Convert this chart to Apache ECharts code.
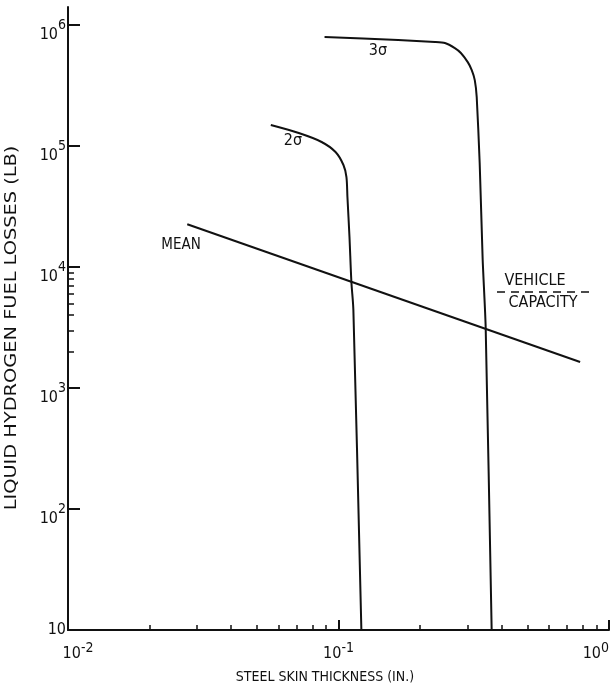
<!DOCTYPE html>
<html>
<head>
<meta charset="utf-8">
<script src="https://cdn.jsdelivr.net/npm/echarts@6/dist/echarts.min.js"></script>
<style>
html,body{margin:0;padding:0;background:#fff;}
#chart{width:612px;height:692px;}
</style>
</head>
<body>
<div id="chart"></div>
<script>
// ---- data ----
const xMajorTicks = [0.01, 0.1, 1];
const xMinorTicks = [0.02, 0.03, 0.04, 0.05, 0.06, 0.07, 0.08, 0.09, 0.2, 0.3, 0.4, 0.5, 0.6, 0.7, 0.8, 0.9];
const yMajorTicks = [10, 100, 1000, 10000, 100000, 1000000];
const yMinorTicks = [2000, 3000, 4000, 5000, 6000, 7000, 8000, 9000];

const meanX = [0.0276, 0.782];
const meanY = [22600, 1640];

const sigma2X = [0.0562, 0.0713, 0.0866, 0.0975, 0.1043, 0.1070, 0.1079, 0.1098, 0.1116, 0.1135, 0.1215];
const sigma2Y = [149000, 128000, 108000, 89200, 69700, 55400, 37900, 17700, 7520, 4410, 10];

const sigma3X = [0.0888, 0.1662, 0.2273, 0.2474, 0.2692, 0.2834, 0.3005, 0.3109, 0.3190, 0.3243, 0.3326, 0.3412, 0.3500, 0.3683];
const sigma3Y = [796000, 752000, 724000, 710000, 645000, 588000, 494000, 425000, 351000, 254000, 72400, 11500, 3190, 10];

const xTitle = 'STEEL SKIN THICKNESS (IN.)';
const yTitle = 'LIQUID HYDROGEN FUEL LOSSES (LB)';

// ---- chart ----
const FONT = "'Liberation Sans Narrow', 'DejaVu Sans Condensed', 'Liberation Sans', sans-serif";
const zip = (xs, ys) => xs.map((x, i) => [x, ys[i]]);
const expOf = v => Math.round(Math.log10(v));

const chart = echarts.init(document.getElementById('chart'), null, {renderer: 'canvas'});

const xRich = {
  b: {fontFamily: FONT, fontSize: 16, color: '#111', padding: [12, 0, 0, 0]},
  b0: {fontFamily: FONT, fontSize: 16, color: '#111', padding: [12, 0, 0, 20]},
  s: {fontFamily: FONT, fontSize: 14, color: '#111'}
};
const yRich = {
  b: {fontFamily: FONT, fontSize: 16, color: '#111', padding: [20, 0, 0, 0]},
  s: {fontFamily: FONT, fontSize: 14, color: '#111'},
  p: {fontFamily: FONT, fontSize: 16, color: '#111'}
};

const lineStyle = {color: '#111', width: 2};

chart.setOption({
  animation: false,
  backgroundColor: '#fff',
  grid: {left: 68, right: 0, top: 7, bottom: 62, containLabel: false},
  xAxis: [{
    type: 'log', logBase: 10, min: 0.01, max: 1,
    axisLine: {show: true, onZero: false, lineStyle: {color: '#111', width: 2}},
    axisTick: {show: true, inside: true, length: 10, customValues: xMajorTicks, lineStyle: {color: '#111', width: 2}},
    axisLabel: {
      show: true, customValues: xMajorTicks, margin: 4, alignMaxLabel: 'right',
      formatter: v => '{' + (v === 0.01 ? 'b0' : 'b') + '|10}{s|' + expOf(v) + '}', rich: xRich
    },
    splitLine: {show: false}, minorTick: {show: false}
  }, {
    type: 'log', logBase: 10, min: 0.01, max: 1, position: 'bottom',
    axisLine: {show: false},
    axisTick: {show: true, inside: true, length: 5, customValues: xMinorTicks, lineStyle: {color: '#111', width: 1.5}},
    axisLabel: {show: false}, splitLine: {show: false}
  }],
  yAxis: [{
    type: 'log', logBase: 10, min: 10, max: 1410000,
    axisLine: {show: true, onZero: false, lineStyle: {color: '#111', width: 2}},
    axisTick: {show: true, inside: true, length: 12, customValues: yMajorTicks, lineStyle: {color: '#111', width: 2}},
    axisLabel: {
      show: true, customValues: yMajorTicks, margin: 2,
      formatter: v => v === 10 ? '{p|10}' : '{b|10}{s|' + expOf(v) + '}', rich: yRich
    },
    splitLine: {show: false}, minorTick: {show: false}
  }, {
    type: 'log', logBase: 10, min: 10, max: 1410000, position: 'left',
    axisLine: {show: false},
    axisTick: {show: true, inside: true, length: 6, customValues: yMinorTicks, lineStyle: {color: '#111', width: 1.5}},
    axisLabel: {show: false}, splitLine: {show: false}
  }],
  series: [
    {type: 'line', name: 'MEAN', data: zip(meanX, meanY), showSymbol: false, lineStyle: lineStyle, silent: true},
    {type: 'line', name: '2σ', data: zip(sigma2X, sigma2Y), showSymbol: false, smooth: 0.3, lineStyle: lineStyle, silent: true},
    {type: 'line', name: '3σ', data: zip(sigma3X, sigma3Y), showSymbol: false, smooth: 0.2, lineStyle: lineStyle, silent: true}
  ],
  graphic: [
    {type: 'text', x: 325, y: 677, style: {text: xTitle, font: "14px " + FONT, fill: '#111', align: 'center', verticalAlign: 'middle'}},
    {type: 'text', x: 12, y: 328, rotation: Math.PI / 2, scaleX: 1.29, style: {text: yTitle, font: "15px 'DejaVu Sans', sans-serif", fill: '#111', align: 'center', verticalAlign: 'middle'}},
    {type: 'text', x: 378, y: 51, style: {text: '3σ', font: "16px " + FONT, fill: '#111', align: 'center', verticalAlign: 'middle'}},
    {type: 'text', x: 293, y: 141, style: {text: '2σ', font: "16px " + FONT, fill: '#111', align: 'center', verticalAlign: 'middle'}},
    {type: 'text', x: 181, y: 245, style: {text: 'MEAN', font: "15px " + FONT, fill: '#111', align: 'center', verticalAlign: 'middle'}},
    {type: 'text', x: 535, y: 281, style: {text: 'VEHICLE', font: "16px " + FONT, fill: '#111', align: 'center', verticalAlign: 'middle'}},
    {type: 'line', shape: {x1: 497, y1: 292, x2: 595, y2: 292}, style: {stroke: '#111', lineWidth: 1.5, lineDash: [8, 6]}},
    {type: 'text', x: 543, y: 303, style: {text: 'CAPACITY', font: "16px " + FONT, fill: '#111', align: 'center', verticalAlign: 'middle'}}
  ]
});
</script>
</body>
</html>
